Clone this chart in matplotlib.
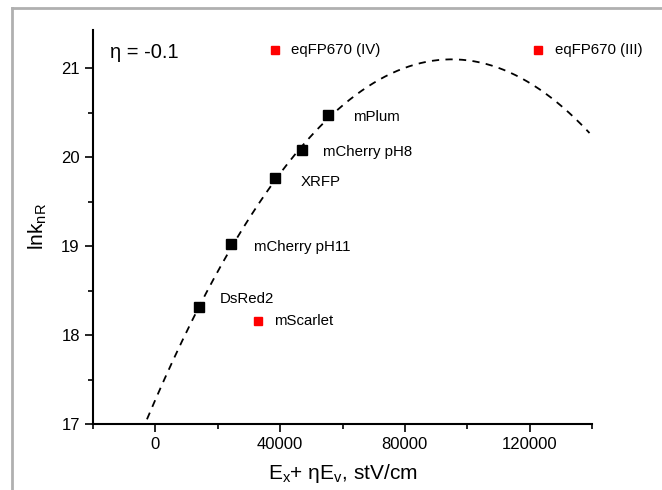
import numpy as np
import matplotlib
matplotlib.use('Agg')
import matplotlib.pyplot as plt
from matplotlib.lines import Line2D
from matplotlib.ticker import MultipleLocator

plt.rcParams['font.family'] = ['Liberation Sans', 'DejaVu Sans']
plt.rcParams['mathtext.fontset'] = 'custom'
plt.rcParams['mathtext.rm'] = 'Liberation Sans'
plt.rcParams['mathtext.it'] = 'Liberation Sans'

# fitted proteins (black)
fit_names = ['DsRed2', 'mCherry pH11', 'XRFP', 'mCherry pH8', 'mPlum']
fit_x = [14000, 24200, 38500, 46900, 55300]
fit_y = [18.32, 19.02, 19.77, 20.08, 20.47]

# outliers (red)
out_names = ['eqFP670 (IV)', 'eqFP670 (III)', 'mScarlet']
out_x = [38200, 122600, 32800]
out_y = [21.21, 21.21, 18.16]

# label positions (data coords, left edge)
fit_lab_x = [20500, 31500, 46600, 53700, 63300]
fit_lab_y = [18.40, 18.99, 19.72, 20.06, 20.45]
out_lab_x = [43400, 128200, 38200]
out_lab_y = [21.20, 21.21, 18.16]

# parabolic fit: y = top - k*(x - x0)^2
x0 = 95000
top = 21.10
k = 4.24e-10
curve_x = np.linspace(-2700, 139200, 300)
curve_y = top - k * (curve_x - x0) ** 2

fig = plt.figure(figsize=(6.62, 4.9), dpi=100)
ax = fig.add_axes([93 / 662, 1 - 424 / 490, 499 / 662, 394 / 490])

ax.plot(curve_x, curve_y, '--', color='black', lw=1.3, dashes=(4, 3.5))
ax.plot(fit_x, fit_y, 's', color='black', ms=6.5, ls='none')
ax.plot(out_x, out_y, 's', color='#ff0000', ms=6, ls='none')

for n, lx, ly in zip(fit_names, fit_lab_x, fit_lab_y):
    ax.text(lx, ly, n, fontsize=10.8, va='center', ha='left')
for n, lx, ly in zip(out_names, out_lab_x, out_lab_y):
    ax.text(lx, ly, n, fontsize=10.8, va='center', ha='left')

ax.text(0.035, 0.968, 'η = -0.1', transform=ax.transAxes, fontsize=14.5,
        va='top', ha='left')

ax.set_xlim(-20000, 140000)
ax.set_ylim(17, 21.43)
ax.xaxis.set_major_locator(MultipleLocator(40000))
ax.xaxis.set_minor_locator(MultipleLocator(20000))
ax.yaxis.set_major_locator(MultipleLocator(1))
ax.yaxis.set_minor_locator(MultipleLocator(0.5))
ax.set_xticks([0, 40000, 80000, 120000])
ax.tick_params(which='major', direction='out', length=6, width=1.2, labelsize=12)
ax.tick_params(which='minor', direction='out', length=3.5, width=1.2)

for s in ['top', 'right']:
    ax.spines[s].set_visible(False)
for s in ['left', 'bottom']:
    ax.spines[s].set_linewidth(1.5)

ax.set_xlabel(r'E$_\mathregular{x}$+ ηE$_\mathregular{v}$, stV/cm', fontsize=15, labelpad=7)
ax.set_ylabel(r'lnk$_\mathregular{nR}$', fontsize=15, labelpad=9)

# frame of the original image
fig.add_artist(Line2D([12 / 662, 12 / 662], [0, 1 - 8 / 490], color='#b0b0b0', lw=2,
                      transform=fig.transFigure))
fig.add_artist(Line2D([12 / 662, 1], [1 - 8 / 490, 1 - 8 / 490], color='#b0b0b0', lw=2,
                      transform=fig.transFigure))

fig.savefig('out.png', dpi=100)
